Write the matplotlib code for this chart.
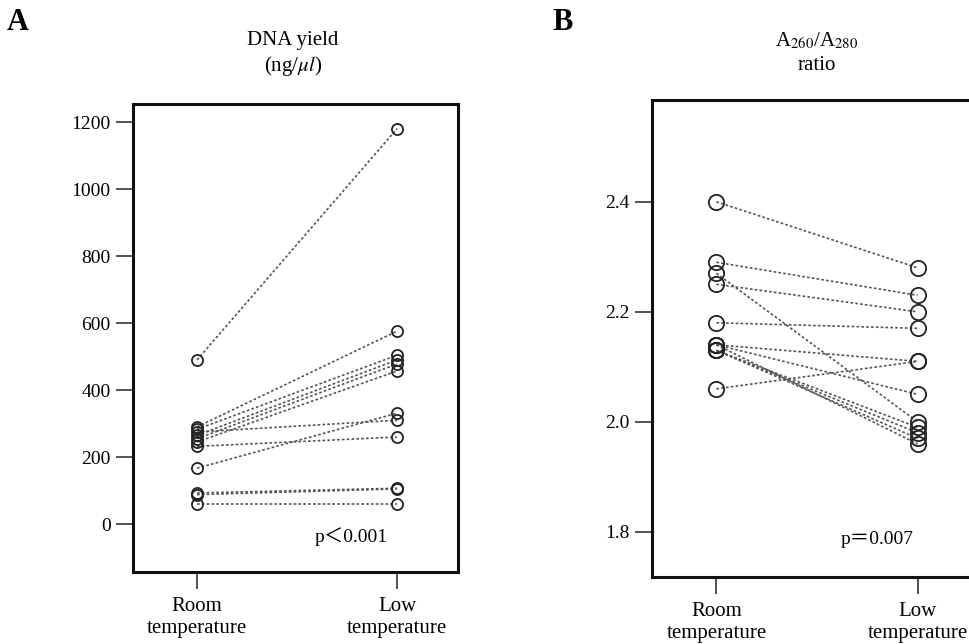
import matplotlib
matplotlib.use("Agg")
import matplotlib.pyplot as plt

plt.rcParams['font.family'] = ['Liberation Serif', 'Noto Sans CJK JP', 'DejaVu Sans']
plt.rcParams['mathtext.fontset'] = 'stix'

# Data
conditions = ["Room\ntemperature", "Low\ntemperature"]
yield_room = [490, 290, 283, 265, 255, 275, 245, 167, 93, 88, 60, 232]
yield_low = [1180, 576, 504, 490, 478, 310, 457, 331, 107, 105, 60, 260]
yield_ticks = [0, 200, 400, 600, 800, 1000, 1200]

ratio_room = [2.40, 2.29, 2.25, 2.27, 2.18, 2.06, 2.14, 2.14, 2.13, 2.13, 2.14, 2.13]
ratio_low = [2.28, 2.23, 2.20, 2.00, 2.17, 2.11, 2.11, 2.05, 1.99, 1.98, 1.96, 1.97]
ratio_ticks = [1.8, 2.0, 2.2, 2.4]

W, H = 969, 644
fig = plt.figure(figsize=(W / 100, H / 100), dpi=100)

def px_axes(l, t, r, b):
    return fig.add_axes([l / W, 1 - b / H, (r - l) / W, (b - t) / H])

axA = px_axes(133, 104, 458, 572)
axB = px_axes(652, 100, 979, 577)

line_kw = dict(color='#555555', lw=1.2, linestyle=(0, (1.6, 1.3)), zorder=1)

def style(ax, ms, room, low):
    for a, b in zip(room, low):
        ax.plot([0, 1], [a, b], **line_kw)
    ax.plot([0] * len(room), room, 'o', mfc='none', mec='#222222', ms=ms, mew=1.3, zorder=2)
    ax.plot([1] * len(low), low, 'o', mfc='none', mec='#222222', ms=ms, mew=1.3, zorder=2)
    for s in ax.spines.values():
        s.set_linewidth(2.2)
        s.set_color('#111111')
    ax.set_xticks([0, 1])
    ax.set_xticklabels(conditions, fontsize=15, linespacing=1.2)
    ax.tick_params(axis='both', length=12, width=1.3, color='#444444', labelsize=14, pad=4)
    ax.tick_params(axis='x', labelsize=15, pad=6)
    ax.set_xlim(-0.32, 1.305)

style(axA, 8, yield_room, yield_low)
axA.set_ylim(-143, 1254)
axA.set_yticks(yield_ticks)
axA.text(0.785, 0.055, "p＜0.001", transform=axA.transAxes, ha='right', va='bottom', fontsize=14)

style(axB, 11, ratio_room, ratio_low)
axB.set_ylim(1.718, 2.585)
axB.set_yticks(ratio_ticks)
axB.set_yticklabels([f"{v:.1f}" for v in ratio_ticks])
axB.text(0.80, 0.06, "p＝0.007", transform=axB.transAxes, ha='right', va='bottom', fontsize=14)

# Titles and panel letters
fig.text(293 / W, 1 - 40 / H, "DNA yield", ha='center', va='center', fontsize=15)
fig.text(293 / W, 1 - 66 / H, r"(ng/$\mu l$)", ha='center', va='center', fontsize=15)
fig.text(817 / W, 1 - 41 / H, r"A$_{260}$/A$_{280}$", ha='center', va='center', fontsize=15)
fig.text(817 / W, 1 - 65 / H, "ratio", ha='center', va='center', fontsize=15)
fig.text(18 / W, 1 - 22 / H, "A", ha='center', va='center', fontsize=22, fontweight='bold')
fig.text(563 / W, 1 - 22 / H, "B", ha='center', va='center', fontsize=22, fontweight='bold')

fig.savefig("out.png", dpi=100)
